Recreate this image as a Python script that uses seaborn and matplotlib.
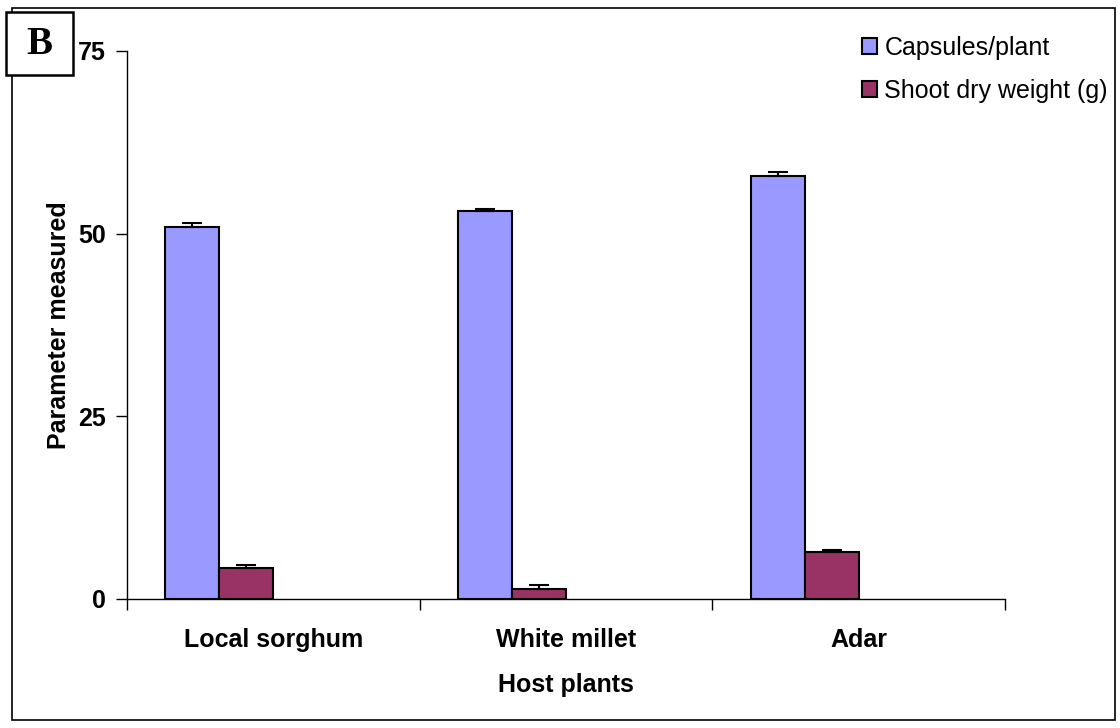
import pandas as pd
import matplotlib
matplotlib.use("Agg")
import matplotlib.pyplot as plt
from matplotlib.patches import Rectangle
import seaborn as sns

# values
hosts = ["Local sorghum", "White millet", "Adar"]
capsules = [50.9, 53.1, 57.9]
capsules_err = [0.5, 0.3, 0.5]
shoot = [4.2, 1.4, 6.4]
shoot_err = [0.5, 0.5, 0.25]
series = ["Capsules/plant", "Shoot dry weight (g)"]

df = pd.DataFrame({
    "host": hosts * 2,
    "value": capsules + shoot,
    "series": [series[0]] * 3 + [series[1]] * 3,
})
errs = {series[0]: capsules_err, series[1]: shoot_err}
colors = {series[0]: "#9999FF", series[1]: "#993366"}

sns.set_style("white")
plt.rcParams["font.family"] = ["Liberation Sans", "DejaVu Sans"]
plt.rcParams.update({"text.color": "black", "axes.labelcolor": "black",
                     "xtick.color": "black", "ytick.color": "black"})

fig = plt.figure(figsize=(11.2, 7.28), dpi=100)
ax = fig.add_axes([127 / 1120, 1 - 599 / 728, 878 / 1120, 548 / 728])

sns.barplot(data=df, x="host", y="value", hue="series", hue_order=series,
            order=hosts, palette=colors, width=0.369, gap=0, errorbar=None,
            edgecolor="black", linewidth=1.5, saturation=1, ax=ax)

# Excel left the pair of bars left of the category centre
bw = 0.369 / 2
for cont, name in zip(ax.containers, series):
    xs, ys = [], []
    for bar in cont:
        bar.set_x(bar.get_x() - bw)
        xs.append(bar.get_x() + bar.get_width() / 2)
        ys.append(bar.get_height())
    ax.errorbar(xs, ys, yerr=[[0] * 3, errs[name]], fmt="none",
                ecolor="black", elinewidth=1.5, capsize=7, capthick=1.5)

ax.set_xlim(-0.5, 2.5)
ax.set_ylim(0, 75)
ax.set_yticks([0, 25, 50, 75])
ax.set_xticks([-0.5, 0.5, 1.5, 2.5], minor=True)
ax.tick_params(axis="x", which="major", length=0, pad=21)
ax.tick_params(axis="x", which="minor", length=8, width=1, color="black",
               direction="out", bottom=True)
ax.tick_params(axis="y", length=8, width=1, color="black", direction="out",
               left=True, pad=7)
for lab in ax.get_xticklabels() + ax.get_yticklabels():
    lab.set_fontsize(18)
    lab.set_fontweight("bold")
    lab.set_color("black")

sns.despine(ax=ax)
for s in ["left", "bottom"]:
    ax.spines[s].set_color("black")
    ax.spines[s].set_linewidth(1)

ax.set_xlabel("Host plants", fontsize=18, fontweight="bold", labelpad=15, color="black")
ax.set_ylabel("Parameter measured", fontsize=18, fontweight="bold", labelpad=5, color="black")

handles, labels = ax.get_legend_handles_labels()
leg = ax.legend(handles, labels, loc="upper right", bbox_to_anchor=(1118 / 1120, 1 - 26 / 728),
                bbox_transform=fig.transFigure, frameon=False, fontsize=18,
                handlelength=0.6, handleheight=0.6, handletextpad=0.3,
                labelspacing=0.75, borderaxespad=0, labelcolor="black")

# outer frame and panel label
fig.patches.append(Rectangle((12 / 1120, 8 / 728), 1103 / 1120, 712 / 728,
                             transform=fig.transFigure, fill=False,
                             edgecolor="black", linewidth=1.2, zorder=0))
fig.patches.append(Rectangle((6 / 1120, 1 - 75 / 728), 67 / 1120, 63 / 728,
                             transform=fig.transFigure, facecolor="white",
                             edgecolor="black", linewidth=1.8, zorder=5))
fig.text(39.5 / 1120, 1 - 45 / 728, "B", ha="center", va="center", fontsize=28,
         fontweight="bold", family=["Liberation Serif", "DejaVu Serif"],
         color="black", zorder=6)

fig.savefig("out.png", dpi=100)
